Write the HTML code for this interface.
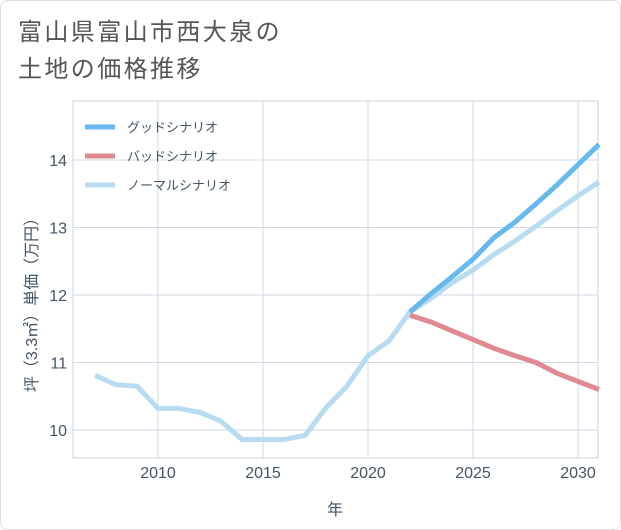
<!DOCTYPE html>
<html><head><meta charset="utf-8"><style>
body{margin:0;background:#fff;font-family:"Liberation Sans","Noto Sans CJK JP",sans-serif;}
#wrap{position:relative;width:619px;height:528px;border:1px solid #ddd;border-radius:8px;background:#fff;overflow:hidden}
#title{position:absolute;left:17px;top:13px;font-size:24px;line-height:37px;color:#555;letter-spacing:2.4px}
svg{position:absolute;left:0;top:0}
</style></head><body>
<div id="wrap">
<div id="title">富山県富山市西大泉の<br>土地の価格推移</div>
<svg id="chart" width="621" height="530"></svg>
</div>
<script>
const years=[2007,2008,2009,2010,2011,2012,2013,2014,2015,2016,2017,2018,2019,2020,2021,2022,2023,2024,2025,2026,2027,2028,2029,2030,2031];
const normal=[10.81,10.67,10.65,10.32,10.32,10.26,10.13,9.86,9.86,9.86,9.92,10.33,10.65,11.1,11.32,11.75,11.95,12.18,12.37,12.6,12.8,13.02,13.25,13.47,13.67];
const goodYears=[2022,2023,2024,2025,2026,2027,2028,2029,2030,2031];
const good=[11.75,12.02,12.27,12.53,12.85,13.08,13.35,13.63,13.93,14.23];
const bad=[11.7,11.6,11.47,11.34,11.21,11.1,11.0,10.84,10.72,10.6];
const xTicks=[2010,2015,2020,2025,2030];
const yTicks=[10,11,12,13,14];
const svg=document.getElementById('chart');const NS='http://www.w3.org/2000/svg';
const L=72,R=597,T=100,B=457;
const x=v=>157+(v-2010)*21;
const y=v=>429-(v-10)*67.5;
function mk(t,a){const e=document.createElementNS(NS,t);for(const k in a)e.setAttribute(k,a[k]);svg.appendChild(e);return e;}
const frame=mk('rect',{x:L,y:T,width:R-L,height:B-T,fill:'none',stroke:'#c8d4e0'});


xTicks.forEach(t=>{const g=mk('line',{x1:x(t),x2:x(t),y1:T,y2:B,stroke:'#cfdae5'});


const tx=mk('text',{x:x(t),y:477,'text-anchor':'middle','font-size':16,fill:'#445566'});tx.textContent=t;

});
yTicks.forEach(t=>{const g=mk('line',{x1:L,x2:R,y1:y(t),y2:y(t),stroke:'#cfdae5'});


const tx=mk('text',{x:66,y:y(t)+6,'text-anchor':'end','font-size':16,fill:'#445566'});tx.textContent=t;

});
const xt=mk('text',{x:334,y:514,'text-anchor':'middle','font-size':16,fill:'#445566'});xt.textContent='年';


const yt=mk('text',{x:0,y:0,'text-anchor':'middle','font-size':16,fill:'#445566',transform:'translate(36,300) rotate(-90)'});yt.textContent='坪（3.3㎡）単価（万円）';


function line(xs,vs,c,n){const p=mk('polyline',{points:xs.map((v,i)=>x(v)+','+y(vs[i])).join(' '),fill:'none',stroke:c,'stroke-width':5,'stroke-linejoin':'round'});

}
line(years,normal,'#b8dcef','normal-scenario-line');
line(goodYears,bad,'#de8a90','bad-scenario-line');
line(goodYears,good,'#67b9ee','good-scenario-line');
const leg=[['グッドシナリオ','#67b9ee'],['バッドシナリオ','#de8a90'],['ノーマルシナリオ','#b8dcef']];
leg.forEach((l,i)=>{const yy=126+i*29;
const s=mk('line',{x1:84,x2:114,y1:yy,y2:yy,stroke:l[1],'stroke-width':5});


const t=mk('text',{x:126,y:yy+5,'font-size':13,fill:'#445566'});t.textContent=l[0];

});
</script>
</body></html>
